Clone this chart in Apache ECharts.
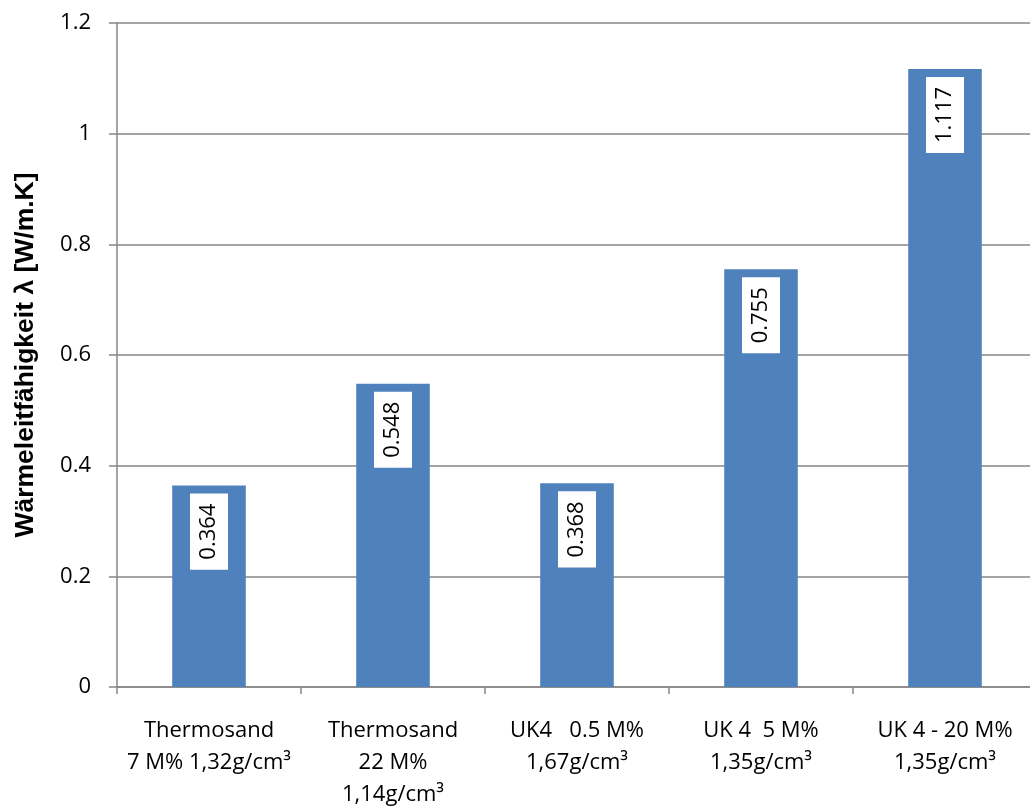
<!DOCTYPE html>
<html>
<head>
<meta charset="utf-8">
<script src="https://cdn.jsdelivr.net/npm/echarts@6/dist/echarts.min.js"></script>
<style>
html,body{margin:0;padding:0;background:#fff;}
#chart{width:1030px;height:808px;}
</style>
</head>
<body>
<div id="chart"></div>
<script>
const categories = [
  "Thermosand\n7 M% 1,32g/cm³",
  "Thermosand\n22 M%\n1,14g/cm³",
  "UK4   0.5 M%\n1,67g/cm³",
  "UK 4  5 M%\n1,35g/cm³",
  "UK 4 - 20 M%\n1,35g/cm³"
];
const values = [0.364, 0.548, 0.368, 0.755, 1.117];
const yTicks = { min: 0, max: 1.2, interval: 0.2 };
const yAxisTitle = "Wärmeleitfähigkeit λ [W/m.K]";

const font = "'Open Sans', 'DejaVu Sans', sans-serif";
const chart = echarts.init(document.getElementById('chart'), null, { renderer: 'canvas' });
chart.setOption({
  animation: false,
  backgroundColor: '#ffffff',
  grid: { left: 117, width: 920, top: 23, height: 664, containLabel: false, outerBoundsMode: 'none' },
  xAxis: {
    type: 'category',
    data: categories,
    boundaryGap: true,
    axisLine: { show: true, lineStyle: { color: '#868686', width: 1.5 } },
    axisTick: { show: true, length: 7, alignWithLabel: false, lineStyle: { color: '#868686', width: 1.5 } },
    axisLabel: {
      interval: 0,
      margin: 28,
      color: '#000',
      fontFamily: font,
      fontSize: 22,
      lineHeight: 32,
      align: 'center'
    },
    splitLine: { show: false }
  },
  yAxis: {
    type: 'value',
    min: yTicks.min,
    max: yTicks.max,
    interval: yTicks.interval,
    name: yAxisTitle,
    nameLocation: 'middle',
    nameGap: 78,
    nameRotate: 90,
    nameTextStyle: {
      color: '#000',
      fontFamily: "'Liberation Sans', Arial, sans-serif",
      fontWeight: 'bold',
      fontSize: 26.5
    },
    axisLine: { show: true, lineStyle: { color: '#868686', width: 1.5 } },
    axisTick: { show: true, length: 8, lineStyle: { color: '#868686', width: 1.5 } },
    axisLabel: {
      margin: 26,
      color: '#000',
      fontFamily: font,
      fontSize: 22,
      formatter: function (v) { return String(Math.round(v * 10) / 10); }
    },
    splitLine: { show: true, lineStyle: { color: '#868686', width: 1.5 } }
  },
  series: [{
    type: 'bar',
    data: values,
    barWidth: '40%',
    itemStyle: { color: '#4F81BD' },
    label: {
      show: true,
      position: 'insideTop',
      distance: 8,
      rotate: 90,
      align: 'right',
      verticalAlign: 'middle',
      color: '#000',
      fontFamily: font,
      fontSize: 22,
      backgroundColor: '#ffffff',
      padding: [8, 10, 8, 10],
      formatter: function (p) { return p.value.toFixed(3); }
    }
  }]
});
</script>
</body>
</html>
